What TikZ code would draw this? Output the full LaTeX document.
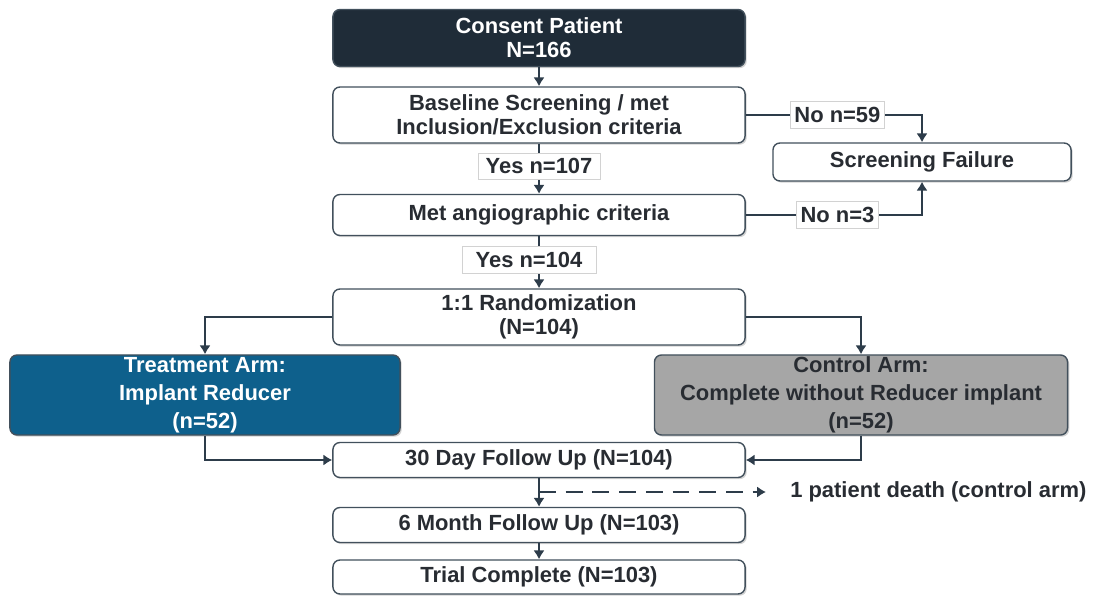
\documentclass[tikz,border=0pt]{standalone}
\usepackage{fontspec}
\setmainfont{Liberation Sans}
\usetikzlibrary{positioning,arrows.meta,shadows}
\definecolor{mydark}{RGB}{31,44,56}
\definecolor{myblue}{RGB}{14,96,140}
\definecolor{mygray}{RGB}{166,166,166}
\definecolor{myline}{RGB}{45,60,74}
\definecolor{mytext}{RGB}{40,44,50}

\begin{document}
\begin{tikzpicture}[x=0.025cm,y=-0.025cm,inner sep=0pt,font=\fontsize{15.6}{17}\selectfont\bfseries]
\tikzstyle{main}=[rectangle, rounded corners=5pt, draw=myline!90, line width=1pt, fill=white, text=mytext, align=center, minimum width=10.3cm, drop shadow={shadow xshift=1.2pt, shadow yshift=-1.2pt, opacity=0.35}]
\tikzstyle{arm}=[main, minimum width=9.75cm, minimum height=2cm, font=\fontsize{15.6}{20}\selectfont\bfseries]
\tikzstyle{lbl}=[rectangle, fill=white, draw=gray!35, line width=0.4pt, text=mytext, inner xsep=3pt, inner ysep=4pt]
\tikzstyle{connect}=[-{Latex[length=2.2mm,width=2.8mm]}, line width=1.6pt, draw=myline]
\useasboundingbox (0,0) rectangle (1093,597);
% main column
\node[main, fill=mydark, text=white, minimum height=1.425cm] (cons) at (539,38) {Consent Patient\\N=166};
\node[main, minimum height=1.4cm] (base) at (539,115) {Baseline Screening / met\\Inclusion/Exclusion criteria};
\node[main, minimum height=1.025cm] (angio) at (539,215) {Met angiographic criteria};
\node[main, minimum height=1.4cm] (rand) at (539,317) {1:1 Randomization\\(N=104)};
\node[arm, fill=myblue, text=white] (treat) at (205,395) {Treatment Arm:\\Implant Reducer\\(n=52)};
\node[arm, fill=mygray, minimum width=10.325cm] (ctrl) at (861,395) {Control Arm:\\Complete without Reducer implant\\(n=52)};
\node[main, minimum height=0.875cm] (day) at (539,460) {30 Day Follow Up (N=104)};
\node[main, minimum height=0.875cm] (month) at (539,525) {6 Month Follow Up (N=103)};
\node[main, minimum height=0.85cm] (trial) at (539,577) {Trial Complete (N=103)};
\node[main, minimum width=7.45cm, minimum height=0.95cm] (fail) at (922,162) {Screening Failure};
\node[text=mytext, anchor=west] (death) at (790,492) {1 patient death (control arm)};
% connectors
\path (cons) edge[connect] (base);
\draw[connect] (base) -- node[lbl, minimum width=3.05cm, pos=0.45] {Yes n=107} (angio);
\draw[connect] (angio) -- node[lbl, minimum width=3.35cm, xshift=-0.25cm, pos=0.45] {Yes n=104} (rand);
\draw[connect] (base.east) -| node[lbl, pos=0.26] {No n=59} (fail.north);
\draw[connect] (angio.east) -| node[lbl, pos=0.26] {No n=3} (fail.south);
\draw[connect] (rand.west) -| (treat.north);
\draw[connect] (rand.east) -| (ctrl.north);
\draw[connect] (treat.south) |- (day.west);
\draw[connect] (ctrl.south) |- (day.east);
\draw[connect] (day) -- (month);
\draw[connect, dash pattern=on 12pt off 7pt] (day.south |- death.west) -- ([xshift=-0.6cm]death.west);
\draw[connect] (month) -- (trial);
\end{tikzpicture}
\end{document}
